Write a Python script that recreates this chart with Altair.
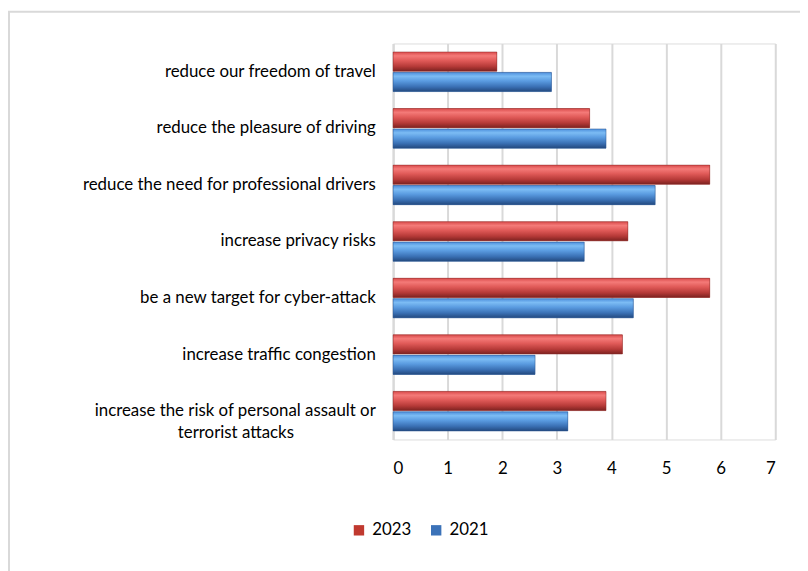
import altair as alt
import pandas as pd

categories = [
    "reduce our freedom of travel",
    "reduce the pleasure of driving",
    "reduce the need for professional drivers",
    "increase privacy risks",
    "be a new target for cyber-attack",
    "increase traffic congestion",
    "increase the risk of personal assault or terrorist attacks",
]
values_2023 = [1.9, 3.6, 5.8, 4.3, 5.8, 4.2, 3.9]
values_2021 = [2.9, 3.9, 4.8, 3.5, 4.4, 2.6, 3.2]
years = ["2023", "2021"]
x_ticks = [0, 1, 2, 3, 4, 5, 6, 7]

rows = []
for c, a, b in zip(categories, values_2023, values_2021):
    rows.append({"category": c, "year": "2023", "value": a})
    rows.append({"category": c, "year": "2021", "value": b})
df = pd.DataFrame(rows)

FONT = "Lato"
RED = "#c0392f"
BLUE = "#3b72b8"

red_grad = alt.Gradient(
    gradient="linear", x1=0, y1=0, x2=0, y2=1,
    stops=[
        alt.GradientStop(offset=0, color="#d94a4a"),
        alt.GradientStop(offset=0.2, color="#f47a78"),
        alt.GradientStop(offset=0.45, color="#e05a58"),
        alt.GradientStop(offset=0.75, color="#b63a38"),
        alt.GradientStop(offset=1, color="#7c2220"),
    ],
)
blue_grad = alt.Gradient(
    gradient="linear", x1=0, y1=0, x2=0, y2=1,
    stops=[
        alt.GradientStop(offset=0, color="#4d8fdc"),
        alt.GradientStop(offset=0.2, color="#7cbcf4"),
        alt.GradientStop(offset=0.45, color="#5a9be0"),
        alt.GradientStop(offset=0.75, color="#3a70b4"),
        alt.GradientStop(offset=1, color="#23497e"),
    ],
)

label_expr = (
    "datum.value == 'increase the risk of personal assault or terrorist attacks' ? "
    "['increase the risk of personal assault or', 'terrorist attacks"
    + "\u00a0" * 19 + "\u200b'] : datum.value"
)

y_enc = alt.Y(
    "category:N",
    sort=categories,
    scale=alt.Scale(paddingInner=0.3, paddingOuter=0.15),
    axis=alt.Axis(
        title=None, ticks=False, domain=True, domainColor="#d9d9d9", domainWidth=2,
        labelFont=FONT, labelFontSize=17, labelColor="#000000", labelPadding=18,
        labelExpr=label_expr, labelLimit=400, labelLineHeight=22,
    ),
)
x_enc = alt.X(
    "value:Q",
    scale=alt.Scale(domain=[0, 7], nice=False),
    axis=alt.Axis(
        title=None, values=x_ticks, ticks=False, domain=False,
        grid=True, gridColor="#d9d9d9", gridWidth=2,
        labelFont=FONT, labelFontSize=17, labelColor="#000000", labelPadding=21,
        format="d",
    ),
)
yoff = alt.YOffset("year:N", sort=years, scale=alt.Scale(domain=years, paddingInner=0.06))

border = alt.Chart(pd.DataFrame({"a": [0]})).mark_rect(
    filled=False, stroke="#d9d9d9", strokeWidth=2
).encode(x=alt.value(-388), x2=alt.value(430), y=alt.value(-32), y2=alt.value(580))

base = alt.Chart(df)

legend_layer = base.mark_bar().encode(
    x=x_enc, y=y_enc, yOffset=yoff,
    color=alt.Color(
        "year:N",
        scale=alt.Scale(domain=years, range=[RED, BLUE]),
        legend=alt.Legend(
            title=None, orient="none", direction="horizontal", legendX=-43, legendY=483,
            symbolType="square", symbolSize=110, labelFont=FONT, labelFontSize=17,
            labelColor="#000000", columnPadding=16, labelOffset=5,
        ),
    ),
)

red_bars = base.transform_filter("datum.year == '2023'").mark_bar(
    fill=red_grad, stroke="#8a2a28", strokeWidth=0.5
).encode(x=x_enc, y=y_enc, yOffset=yoff)
blue_bars = base.transform_filter("datum.year == '2021'").mark_bar(
    fill=blue_grad, stroke="#2a5690", strokeWidth=0.5
).encode(x=x_enc, y=y_enc, yOffset=yoff)

chart = alt.layer(border, legend_layer, red_bars, blue_bars).properties(
    width=386, height=400,
    autosize=alt.AutoSizeParams(type="none"),
    padding={"left": 389, "top": 33, "right": 25, "bottom": 130},
).configure_view(stroke=None).configure(background="white")

chart.save("out.html", embed_options={"renderer": "svg", "actions": False})
